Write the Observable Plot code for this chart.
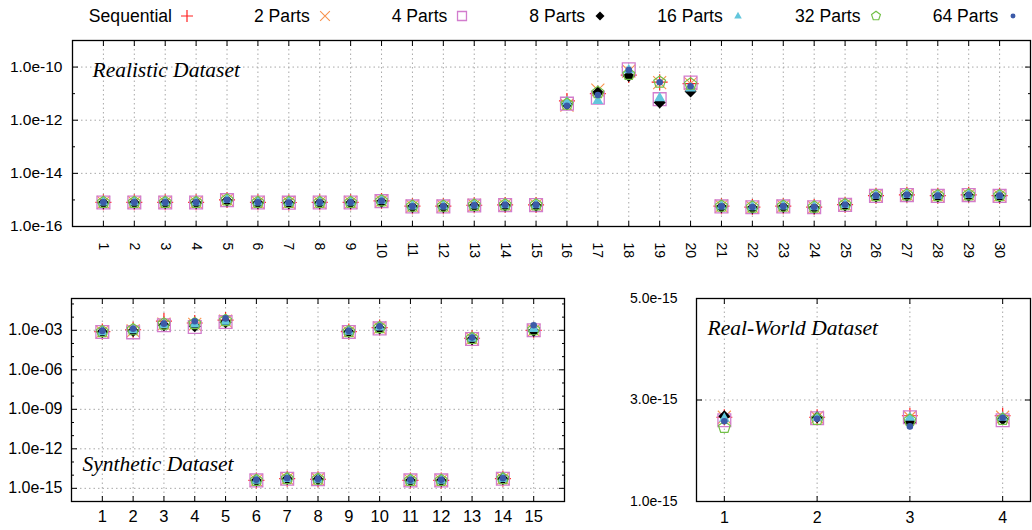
<!DOCTYPE html>
<html><head><meta charset="utf-8">
<script src="https://cdn.jsdelivr.net/npm/d3@7"></script>
<script src="https://cdn.jsdelivr.net/npm/@observablehq/plot@0.6"></script>
<style>
body{margin:0;background:#fff;}
#root{position:relative;width:1032px;height:530px;overflow:hidden;font-family:"Liberation Sans",Arial,sans-serif;background:#fff;}
.panel{position:absolute;}
.li{position:absolute;top:5px;height:22px;display:flex;align-items:center;justify-content:flex-end;font-size:17.6px;color:#000;white-space:nowrap;}
.li svg{margin-left:6px;}
</style></head><body><div id="root"></div>
<script>
// ---------------- data ----------------
const seriesNames = ["Sequential","2 Parts","4 Parts","8 Parts","16 Parts","32 Parts","64 Parts"];

// Realistic Dataset (30 cases)
const realisticIds = [1,2,3,4,5,6,7,8,9,10,11,12,13,14,15,16,17,18,19,20,21,22,23,24,25,26,27,28,29,30];
const realisticSequential = [8.1e-16,8.1e-16,8.1e-16,8.1e-16,1.0e-15,8.1e-16,8.0e-16,8.1e-16,8.1e-16,9.2e-16,5.8e-16,5.8e-16,6.3e-16,6.5e-16,6.5e-16,5.3e-12,1.0e-11,5.0e-11,2.7e-11,2.4e-11,5.8e-16,5.4e-16,5.8e-16,5.4e-16,6.6e-16,1.45e-15,1.55e-15,1.45e-15,1.55e-15,1.45e-15];
const realistic2 = [8.1e-16,8.1e-16,8.1e-16,8.1e-16,1.0e-15,8.1e-16,8.0e-16,8.1e-16,8.1e-16,9.2e-16,5.8e-16,5.8e-16,6.3e-16,6.5e-16,6.5e-16,3.7e-12,1.35e-11,7.0e-11,2.6e-11,2.4e-11,5.8e-16,5.4e-16,5.8e-16,5.4e-16,6.6e-16,1.45e-15,1.55e-15,1.45e-15,1.55e-15,1.45e-15];
const realistic4 = [8.0e-16,8.0e-16,8.0e-16,8.0e-16,9.8e-16,8.0e-16,7.9e-16,8.0e-16,8.0e-16,9.0e-16,5.7e-16,5.7e-16,6.2e-16,6.4e-16,6.4e-16,4.2e-12,7.0e-12,8.2e-11,6.2e-12,2.6e-11,5.7e-16,5.3e-16,5.7e-16,5.3e-16,6.5e-16,1.42e-15,1.52e-15,1.42e-15,1.52e-15,1.42e-15];
const realistic8 = [7.6e-16,7.6e-16,7.6e-16,7.6e-16,9.4e-16,7.6e-16,7.5e-16,7.6e-16,7.6e-16,8.6e-16,5.4e-16,5.4e-16,5.9e-16,6.1e-16,6.1e-16,4.0e-12,1.1e-11,4.6e-11,4.6e-12,1.2e-11,5.4e-16,5.0e-16,5.4e-16,5.0e-16,6.2e-16,1.36e-15,1.45e-15,1.36e-15,1.45e-15,1.36e-15];
const realistic16 = [8.4e-16,8.4e-16,8.4e-16,8.4e-16,1.04e-15,8.4e-16,8.3e-16,8.4e-16,8.4e-16,9.5e-16,6.0e-16,6.0e-16,6.5e-16,6.7e-16,6.7e-16,5.0e-12,5.6e-12,8.0e-11,7.0e-12,1.65e-11,6.0e-16,5.6e-16,6.0e-16,5.6e-16,6.8e-16,1.5e-15,1.6e-15,1.5e-15,1.6e-15,1.5e-15];
const realistic32 = [8.1e-16,8.1e-16,8.1e-16,8.1e-16,1.0e-15,8.1e-16,8.0e-16,8.1e-16,8.1e-16,9.2e-16,5.8e-16,5.8e-16,6.3e-16,6.5e-16,6.5e-16,4.0e-12,1.1e-11,5.3e-11,2.7e-11,2.3e-11,5.8e-16,5.4e-16,5.8e-16,5.4e-16,6.6e-16,1.45e-15,1.55e-15,1.45e-15,1.55e-15,1.45e-15];
const realistic64 = [8.1e-16,8.1e-16,8.1e-16,8.1e-16,1.0e-15,8.1e-16,8.0e-16,8.1e-16,8.1e-16,9.2e-16,5.8e-16,5.8e-16,6.3e-16,6.5e-16,6.5e-16,3.5e-12,8.9e-12,7.8e-11,2.7e-11,1.9e-11,5.8e-16,5.4e-16,5.8e-16,5.4e-16,6.6e-16,1.45e-15,1.55e-15,1.45e-15,1.55e-15,1.45e-15];
const realisticYTicks = [1e-16,1e-14,1e-12,1e-10];
const realisticYLabels = ["1.0e-16","1.0e-14","1.0e-12","1.0e-10"];
const realisticYMinor = [1e-15,1e-13,1e-11];

// Synthetic Dataset (15 cases)
const syntheticIds = [1,2,3,4,5,6,7,8,9,10,11,12,13,14,15];
const syntheticSequential = [8.0e-4,1.1e-3,5.0e-3,3.6e-3,6.0e-3,4.0e-15,5.4e-15,4.9e-15,8.0e-4,1.6e-3,4.0e-15,4.0e-15,2.5e-4,5.4e-15,1.0e-3];
const synthetic2 = [7.5e-4,9.0e-4,3.0e-3,2.8e-3,5.0e-3,4.0e-15,5.4e-15,4.9e-15,7.5e-4,1.5e-3,4.0e-15,4.0e-15,2.3e-4,5.4e-15,1.0e-3];
const synthetic4 = [7.4e-4,7.0e-4,2.4e-3,1.8e-3,4.3e-3,4.0e-15,5.4e-15,4.9e-15,7.4e-4,1.4e-3,4.0e-15,4.0e-15,2.2e-4,5.4e-15,1.0e-3];
const synthetic8 = [7.4e-4,9.0e-4,2.4e-3,2.0e-3,4.0e-3,3.8e-15,5.2e-15,4.7e-15,7.4e-4,1.4e-3,3.8e-15,3.8e-15,2.1e-4,5.2e-15,9.0e-4];
const synthetic16 = [8.0e-4,1.1e-3,2.8e-3,3.0e-3,5.0e-3,4.2e-15,5.6e-15,5.0e-15,8.5e-4,1.8e-3,4.2e-15,4.2e-15,2.5e-4,5.6e-15,1.4e-3];
const synthetic32 = [8.0e-4,1.1e-3,3.0e-3,3.2e-3,5.5e-3,4.0e-15,5.4e-15,4.9e-15,8.0e-4,1.6e-3,4.0e-15,4.0e-15,2.4e-4,5.4e-15,1.1e-3];
const synthetic64 = [9.0e-4,1.3e-3,3.2e-3,4.9e-3,8.0e-3,4.4e-15,5.8e-15,5.2e-15,9.0e-4,2.0e-3,4.4e-15,4.4e-15,2.8e-4,5.8e-15,2.4e-3];
const syntheticYTicks = [1e-15,1e-12,1e-9,1e-6,1e-3];
const syntheticYLabels = ["1.0e-15","1.0e-12","1.0e-09","1.0e-06","1.0e-03"];
const syntheticYMinor = [1e-16,1e-14,1e-13,1e-11,1e-10,1e-8,1e-7,1e-5,1e-4,1e-2,1e-1];

// Real-World Dataset (4 cases)
const realWorldIds = [1,2,3,4];
const realWorldSequential = [2.66e-15,2.66e-15,2.69e-15,2.69e-15];
const realWorld2 = [2.66e-15,2.66e-15,2.66e-15,2.66e-15];
const realWorld4 = [2.60e-15,2.64e-15,2.66e-15,2.60e-15];
const realWorld8 = [2.68e-15,2.66e-15,2.56e-15,2.62e-15];
const realWorld16 = [2.64e-15,2.66e-15,2.66e-15,2.66e-15];
const realWorld32 = [2.46e-15,2.62e-15,2.60e-15,2.62e-15];
const realWorld64 = [2.58e-15,2.63e-15,2.48e-15,2.65e-15];
const realWorldYTicks = [1e-15,3e-15,5e-15];
const realWorldYLabels = ["1.0e-15","3.0e-15","5.0e-15"];

// ---------------- symbols ----------------
const sym = fn => ({draw(c, size){ fn(c, Math.sqrt(size/Math.PI)); }});
const plusSym = sym((c,r)=>{c.moveTo(-r,0);c.lineTo(r,0);c.moveTo(0,-r);c.lineTo(0,r);});
const timesSym = sym((c,r)=>{c.moveTo(-r,-r);c.lineTo(r,r);c.moveTo(-r,r);c.lineTo(r,-r);});
const squareSym = sym((c,r)=>{c.moveTo(-r,-r);c.lineTo(r,-r);c.lineTo(r,r);c.lineTo(-r,r);c.closePath();});
const diamondSym = sym((c,r)=>{c.moveTo(0,-r);c.lineTo(r,0);c.lineTo(0,r);c.lineTo(-r,0);c.closePath();});
const triangleSym = sym((c,r)=>{c.moveTo(0,-r);c.lineTo(0.9*r,0.6*r);c.lineTo(-0.9*r,0.6*r);c.closePath();});
const pentagonSym = sym((c,r)=>{for(let k=0;k<5;k++){const a=-Math.PI/2+k*2*Math.PI/5;const px=r*Math.cos(a),py=r*Math.sin(a);k?c.lineTo(px,py):c.moveTo(px,py);}c.closePath();});
const circleSym = sym((c,r)=>{c.moveTo(r,0);c.arc(0,0,r,0,2*Math.PI);});

const styles = [
  {symbol: plusSym, r: 8, fill: "none", stroke: "#ff2020", strokeWidth: 1.2},
  {symbol: timesSym, r: 6.5, fill: "none", stroke: "#f8934f", strokeWidth: 1.1},
  {symbol: squareSym, r: 6.4, fill: "none", stroke: "#d27ccd", strokeWidth: 1.3},
  {symbol: diamondSym, r: 6, fill: "#000", stroke: "none", strokeWidth: 0},
  {symbol: triangleSym, r: 6, fill: "#62c6dc", stroke: "none", strokeWidth: 0},
  {symbol: pentagonSym, r: 6.2, fill: "none", stroke: "#72c046", strokeWidth: 1.2},
  {symbol: circleSym, r: 3.3, fill: "#3c5aa8", stroke: "none", strokeWidth: 0}
];
const legendScale = [0.75, 0.75, 0.7, 0.75, 0.7, 0.75, 0.75];

function tidy(ids, arrays){
  const rows = [];
  arrays.forEach((arr, k) => arr.forEach((v, i) => rows.push({x: ids[i], y: v, s: seriesNames[k]})));
  return rows;
}

const root = document.getElementById("root");

// ---------------- legend ----------------
styles.forEach((st, k) => {
  const cx = 188 + k * 137.7;
  const div = document.createElement("div");
  div.className = "li";
  div.style.left = (cx - 200) + "px";
  div.style.width = "208px";
  const span = document.createElement("span");
  span.textContent = seriesNames[k];
  div.appendChild(span);
  const size = 18;
  const svg = d3.create("svg").attr("width", size).attr("height", size).style("overflow","visible");
  const p = d3.path();
  const rr = st.r * legendScale[k];
  st.symbol.draw(p, rr*rr*Math.PI);
  svg.append("path").attr("transform", `translate(${size/2},${size/2})`).attr("d", p.toString())
    .attr("fill", st.fill).attr("stroke", st.stroke).attr("stroke-width", st.strokeWidth);
  div.appendChild(svg.node());
  root.appendChild(div);
});

// ---------------- panels ----------------
const gridStyle = {stroke: "#a8a8a8", strokeOpacity: 1, strokeDasharray: "1.5,3", strokeWidth: 1};

function panel(o){
  const rows = tidy(o.ids, o.series);
  const fmt = d => o.yLabels[o.yTicks.indexOf(d)];
  const marks = [
    Plot.gridX(o.ids, gridStyle),
    Plot.gridY(o.yTicks, gridStyle),
    Plot.axisY(o.yTicks, {anchor: "left", tickSize: 0, tickPadding: o.yPad, tickFormat: fmt, fontSize: o.yFont, label: null}),
    Plot.axisX(o.ids, {anchor: "bottom", tickSize: 0, tickPadding: o.xPad, tickRotate: o.xRotate || 0,
      textAnchor: o.xRotate ? "start" : "middle", lineAnchor: o.xRotate ? "middle" : "top",
      fontSize: o.xFont, label: null, tickFormat: d => String(d)}),
    Plot.axisX(o.ids, {anchor: "bottom", tickSize: 5, dy: -5, tickFormat: () => "", label: null}),
    Plot.axisX(o.ids, {anchor: "top", tickSize: 5, dy: 5, tickFormat: () => "", label: null}),
    Plot.axisY(o.yTicks, {anchor: "left", tickSize: 6, dx: 6, tickFormat: () => "", label: null}),
    Plot.axisY(o.yTicks, {anchor: "right", tickSize: 6, dx: -6, tickFormat: () => "", label: null})
  ];
  if (o.yMinor) {
    marks.push(Plot.axisY(o.yMinor, {anchor: "left", tickSize: 3, dx: 3, tickFormat: () => "", label: null}));
    marks.push(Plot.axisY(o.yMinor, {anchor: "right", tickSize: 3, dx: -3, tickFormat: () => "", label: null}));
  }
  styles.forEach((st, k) => {
    marks.push(Plot.dot(rows.filter(d => d.s === seriesNames[k]), {x: "x", y: "y", ...st}));
  });
  marks.push(Plot.frame({stroke: "#000", strokeWidth: 1.3}));
  marks.push(Plot.text([o.title], {text: d => d, frameAnchor: o.titleAnchor, dx: o.titleDx, dy: o.titleDy,
    textAnchor: "start", lineAnchor: "bottom", fontFamily: "Liberation Serif, Times New Roman, serif",
    fontStyle: "italic", fontSize: 21.5, fill: "#000"}));
  const chart = Plot.plot({
    width: o.width, height: o.height,
    marginLeft: o.ml, marginRight: o.mr, marginTop: o.mt, marginBottom: o.mb,
    style: {fontFamily: "Liberation Sans, Arial, sans-serif", color: "#000", background: "transparent", overflow: "visible"},
    x: {type: "linear", domain: o.xDomain, axis: null},
    y: {type: o.yType, domain: o.yDomain, axis: null},
    marks
  });
  chart.classList.add("panel");
  chart.style.left = o.left + "px";
  chart.style.top = o.top + "px";
  root.appendChild(chart);
}

panel({
  ids: realisticIds,
  series: [realisticSequential, realistic2, realistic4, realistic8, realistic16, realistic32, realistic64],
  xDomain: [0, 31], yType: "log", yDomain: [1e-16, 1e-9],
  yTicks: realisticYTicks, yLabels: realisticYLabels, yMinor: realisticYMinor,
  left: 0, top: 30, width: 1032, height: 240, ml: 72, mr: 2, mt: 10, mb: 44,
  yPad: 10, yFont: 15.5, xPad: 16, xFont: 14, xRotate: 90,
  title: "Realistic Dataset", titleAnchor: "top-left", titleDx: 20, titleDy: 36
});

panel({
  ids: syntheticIds,
  series: [syntheticSequential, synthetic2, synthetic4, synthetic8, synthetic16, synthetic32, synthetic64],
  xDomain: [0, 16], yType: "log", yDomain: [1e-16, 0.26],
  yTicks: syntheticYTicks, yLabels: syntheticYLabels, yMinor: syntheticYMinor,
  left: 0, top: 280, width: 580, height: 250, ml: 71, mr: 16, mt: 18, mb: 29,
  yPad: 9, yFont: 16, xPad: 9, xFont: 16.5,
  title: "Synthetic Dataset", titleAnchor: "bottom-left", titleDx: 11, titleDy: -31
});

panel({
  ids: realWorldIds,
  series: [realWorldSequential, realWorld2, realWorld4, realWorld8, realWorld16, realWorld32, realWorld64],
  xDomain: [0.7, 4.3], yType: "linear", yDomain: [1e-15, 5e-15],
  yTicks: realWorldYTicks, yLabels: realWorldYLabels,
  left: 580, top: 280, width: 452, height: 250, ml: 116, mr: 2, mt: 18, mb: 29,
  yPad: 19, yFont: 14, xPad: 10, xFont: 16,
  title: "Real-World Dataset", titleAnchor: "top-left", titleDx: 11, titleDy: 36
});
</script></body></html>
